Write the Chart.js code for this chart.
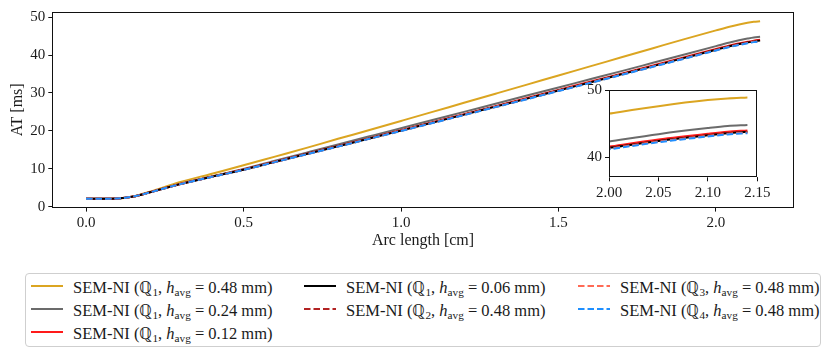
<!DOCTYPE html>
<html><head><meta charset="utf-8">
<script src="https://cdn.jsdelivr.net/npm/chart.js@4/dist/chart.umd.min.js"></script>
<style>
html,body{margin:0;padding:0;background:#fff;}
#wrap{position:relative;width:831px;height:357px;overflow:hidden;font-family:"Liberation Serif",serif;color:#1a1a1a;}
#main{position:absolute;left:0;top:0;}
#inset{position:absolute;left:570px;top:78px;}
#legend{position:absolute;left:25px;top:273px;width:796px;height:74px;border:1px solid #cfcfcf;border-radius:4px;box-sizing:border-box;}
.item{position:absolute;height:22px;display:flex;align-items:center;font-size:16.5px;white-space:nowrap;}
.item svg{margin-right:10px;flex:none;}
.item sub{font-size:0.68em;vertical-align:-0.3em;line-height:0;}
</style></head>
<body>
<div id="wrap">
  <canvas id="main" width="831" height="260"></canvas>
  <canvas id="inset" width="215" height="125"></canvas>
  <div id="legend"></div>
</div>
<script>
// ---- data ----
const arcLength = [0,0.05,0.1,0.15,0.2,0.25,0.3,0.4,0.5,0.6,0.7,0.8,0.9,1.0,1.1,1.2,1.3,1.4,1.5,1.6,1.7,1.8,1.9,2.0,2.05,2.1,2.12,2.14];
const atQ1h048 = [2.1,2.1,2.15,2.7,3.9,5.2,6.5,8.7,10.9,13.2,15.5,17.9,20.2,22.6,25.0,27.4,29.8,32.2,34.6,37.0,39.4,41.8,44.2,46.5,47.6,48.5,48.75,48.9];
const atQ1h024 = [2.1,2.1,2.15,2.65,3.75,4.9,6.05,8.0,9.95,12.1,14.25,16.4,18.55,20.7,22.85,25.0,27.15,29.3,31.45,33.6,35.75,37.95,40.15,42.35,43.45,44.35,44.65,44.8];
const atQ1h012 = [2.1,2.1,2.15,2.65,3.72,4.88,6.0,7.92,9.8,11.87,13.94,16.01,18.08,20.15,22.27,24.4,26.52,28.65,30.8,32.94,35.1,37.27,39.44,41.6,42.65,43.5,43.8,44.0];
const atQ1h006 = [2.1,2.1,2.15,2.65,3.71,4.87,5.98,7.9,9.76,11.82,13.88,15.94,18.0,20.06,22.17,24.28,26.39,28.5,30.65,32.76,34.92,37.08,39.24,41.4,42.45,43.3,43.6,43.8];
const atQ2h048 = [2.1,2.1,2.15,2.65,3.71,4.86,5.97,7.88,9.74,11.8,13.86,15.91,17.97,20.03,22.14,24.25,26.36,28.46,30.61,32.72,34.87,37.03,39.19,41.35,42.4,43.25,43.55,43.75];
const atQ3h048 = [2.1,2.1,2.15,2.65,3.7,4.86,5.96,7.87,9.72,11.78,13.83,15.88,17.94,20.0,22.1,24.21,26.31,28.41,30.56,32.67,34.82,36.97,39.12,41.28,42.33,43.18,43.48,43.68];
const atQ4h048 = [2.1,2.1,2.15,2.65,3.7,4.85,5.95,7.85,9.7,11.75,13.8,15.85,17.9,19.95,22.05,24.15,26.25,28.35,30.5,32.6,34.75,36.9,39.05,41.2,42.25,43.1,43.4,43.6];

const seriesValues = [atQ1h048, atQ1h024, atQ1h012, atQ1h006, atQ2h048, atQ3h048, atQ4h048];
const seriesQ = ['1','1','1','1','2','3','4'];
const seriesH = ['0.48','0.24','0.12','0.06','0.48','0.48','0.48'];

const mainXTicks = [0,0.5,1.0,1.5,2.0];
const mainXTickLabels = ['0.0','0.5','1.0','1.5','2.0'];
const mainYTicks = [0,10,20,30,40,50];
const mainYTickLabels = ['0','10','20','30','40','50'];
const insetXTicks = [2.00,2.05,2.10,2.15];
const insetXTickLabels = ['2.00','2.05','2.10','2.15'];
const insetYTicks = [40,50];
const insetYTickLabels = ['40','50'];

// ---- styles ----
const seriesColors = ['#dba521','#6b6b6b','#ff1a1a','#000000','#b22222','#ff6a55','#1e8fff'];
const seriesDash = [[],[],[],[],[6.5,3],[6.5,3],[6.5,3]];
const FONT = '"Liberation Serif", "DejaVu Serif", serif';
Chart.defaults.font.family = FONT;
Chart.defaults.color = '#1a1a1a';

function makeDatasets(clip){
  return seriesValues.map((vals,i)=>({
    label: 'SEM-NI (Q'+seriesQ[i]+', h_avg = '+seriesH[i]+' mm)',
    data: arcLength.map((x,k)=>({x:x,y:vals[k]})),
    borderColor: seriesColors[i],
    borderWidth: 2,
    borderDash: seriesDash[i],
    pointRadius: 0,
    fill: false,
    cubicInterpolationMode: 'monotone',
    order: seriesValues.length - i,
    clip: clip
  }));
}

const framePlugin = {
  id:'frame',
  beforeDatasetsDraw(chart){
    const {ctx, chartArea:a} = chart;
    ctx.save(); ctx.fillStyle='#fff'; ctx.fillRect(a.left,a.top,a.right-a.left,a.bottom-a.top); ctx.restore();
  },
  afterDatasetsDraw(chart){
    const {ctx, chartArea:a} = chart;
    ctx.save(); ctx.strokeStyle='#111'; ctx.lineWidth=1;
    const l=Math.round(a.left)+0.5, t=Math.round(a.top)+0.5, r=Math.round(a.right)-0.5, b=Math.round(a.bottom)-0.5;
    ctx.strokeRect(l,t,r-l,b-t); ctx.restore();
  }
};

function axisCommon(ticksArr, labelsArr, size, pad){
  return {
    type:'linear',
    afterBuildTicks: s => { s.ticks = ticksArr.map(v=>({value:v})); },
    grid:{drawOnChartArea:false, drawTicks:true, tickLength:4, tickColor:'#111', tickWidth:1},
    border:{display:false},
    ticks:{font:{size:size, family:FONT}, color:'#1a1a1a', padding:pad, autoSkip:false, maxRotation:0,
           callback:(v,i)=>labelsArr[i]}
  };
}

const mx = axisCommon(mainXTicks, mainXTickLabels, 15, 2.5);
Object.assign(mx, {min:-0.107, max:2.247, afterFit:s=>{s.height=52.4;},
  title:{display:true, text:'Arc length [cm]', color:'#1a1a1a', font:{size:16, family:FONT}, padding:{top:0,bottom:9.5}}});
const my = axisCommon(mainYTicks, mainYTickLabels, 15, 3);
Object.assign(my, {min:-0.25, max:51.35, afterFit:s=>{s.width=52.3;},
  title:{display:true, text:'AT [ms]', color:'#1a1a1a', font:{size:16, family:FONT}, padding:{top:8,bottom:0}}});

new Chart(document.getElementById('main'), {
  type:'line',
  data:{datasets: makeDatasets(false)},
  options:{
    responsive:false, animation:false, devicePixelRatio:1,
    layout:{padding:{left:0, top:9.5, right:37.2, bottom:0}},
    plugins:{legend:{display:false}, tooltip:{enabled:false}},
    scales:{x:mx, y:my}
  },
  plugins:[framePlugin]
});

const ix = axisCommon(insetXTicks, insetXTickLabels, 15, 2.5);
Object.assign(ix, {min:2.0, max:2.15, afterFit:s=>{s.height=25.7;}});
const iy = axisCommon(insetYTicks, insetYTickLabels, 15, 3);
Object.assign(iy, {min:37.05, max:50, afterFit:s=>{s.width=39;}});

new Chart(document.getElementById('inset'), {
  type:'line',
  data:{datasets: makeDatasets(0)},
  options:{
    responsive:false, animation:false, devicePixelRatio:1,
    layout:{padding:{left:0, top:11, right:27.7, bottom:0}},
    plugins:{legend:{display:false}, tooltip:{enabled:false}},
    scales:{x:ix, y:iy}
  },
  plugins:[framePlugin]
});

// ---- HTML legend (3 columns, column-major like the reference) ----
const legend = document.getElementById('legend');
const colX = [5, 278, 552];
const rowY = [1, 24, 47];
const colOf = [0,0,0,1,1,2,2], rowOf = [0,1,2,0,1,0,1];
seriesValues.forEach((_,i)=>{
  const d = document.createElement('div');
  d.className = 'item';
  d.style.left = colX[colOf[i]]+'px';
  d.style.top = rowY[rowOf[i]]+'px';
  const dash = seriesDash[i].length ? ' stroke-dasharray="'+seriesDash[i].join(',')+'"' : '';
  d.innerHTML = '<svg width="32" height="4"><line x1="0" y1="2" x2="32" y2="2" stroke="'+seriesColors[i]+'" stroke-width="2"'+dash+'/></svg>'
    + '<span>SEM-NI (ℚ<sub>'+seriesQ[i]+'</sub>, <i>h</i><sub>avg</sub> = '+seriesH[i]+' mm)</span>';
  legend.appendChild(d);
});
</script>
</body></html>
